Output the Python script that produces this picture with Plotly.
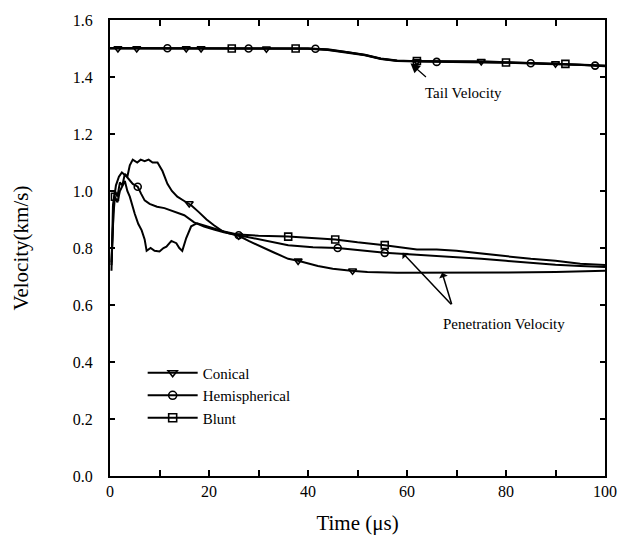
import plotly.graph_objects as go

# ---------------- data ----------------
# Penetration velocity curves
cone_t = [0.3, 0.6, 1.0, 1.5, 2.0, 2.5, 3.0, 3.5, 4.0, 4.6, 5.5, 6.2, 7.0, 7.8, 8.6, 9.6, 10.6, 11.6,
          12.5, 13.6, 15.0, 16.4, 18.0, 19.5, 21.0, 22.6, 24.0, 26.0, 28.0, 30.0, 33.0, 36.0, 38.0,
          42.0, 45.0, 48.7, 52.0, 58.0, 65.0, 70.0, 80.0, 90.0, 100.0]
cone_v = [0.72, 0.95, 1.00, 0.98, 1.03, 1.02, 1.06, 1.05, 1.09, 1.11, 1.10, 1.11, 1.105, 1.11, 1.10,
          1.10, 1.07, 1.025, 1.00, 0.98, 0.965, 0.95, 0.925, 0.90, 0.88, 0.86, 0.852, 0.843, 0.825,
          0.808, 0.785, 0.762, 0.755, 0.737, 0.727, 0.72, 0.716, 0.713, 0.713, 0.713, 0.714, 0.716, 0.72]

hemi_t = [0.3, 0.8, 1.2, 1.8, 2.4, 3.4, 4.6, 5.6, 6.3, 7.0, 8.0, 9.5, 11.0, 13.0, 15.0, 17.0, 19.0,
          21.0, 23.0, 26.0, 30.0, 36.0, 41.0, 46.0, 50.0, 55.5, 62.0, 66.0, 70.0, 75.0, 80.0, 85.0,
          90.0, 95.0, 100.0]
hemi_v = [0.75, 0.97, 1.02, 1.05, 1.065, 1.05, 1.025, 1.015, 0.99, 0.967, 0.955, 0.945, 0.94, 0.927,
          0.915, 0.89, 0.875, 0.865, 0.855, 0.845, 0.83, 0.81, 0.803, 0.80, 0.793, 0.783, 0.776, 0.772,
          0.768, 0.762, 0.755, 0.748, 0.741, 0.737, 0.733]

blunt_t = [0.3, 0.7, 1.0, 1.5, 2.0, 2.5, 3.0, 3.5, 4.0, 5.0, 5.7, 6.4, 7.0, 7.4, 8.2, 9.0, 10.0, 10.8,
           11.4, 12.4, 13.4, 14.0, 14.6, 15.4, 16.4, 17.6, 19.0, 21.0, 23.0, 26.0, 30.0, 36.0, 41.0,
           45.5, 50.0, 55.5, 62.0, 66.0, 70.0, 75.0, 80.0, 85.0, 90.0, 95.0, 100.0]
blunt_v = [0.74, 0.92, 0.98, 0.96, 1.00, 1.02, 1.035, 1.00, 0.98, 0.92, 0.885, 0.862, 0.83, 0.79, 0.80,
           0.79, 0.788, 0.80, 0.805, 0.825, 0.817, 0.80, 0.79, 0.835, 0.876, 0.887, 0.88, 0.87, 0.858,
           0.847, 0.843, 0.84, 0.835, 0.83, 0.82, 0.81, 0.795, 0.795, 0.79, 0.78, 0.77, 0.762, 0.755,
           0.745, 0.74]

# Tail velocity curves
tail_t = [0.0, 10.0, 20.0, 30.0, 40.0, 44.0, 48.0, 51.5, 54.7, 58.0, 62.0, 70.0, 75.0, 80.0, 88.0,
          95.0, 100.0]
tail_cone_v = [1.500, 1.500, 1.500, 1.499, 1.500, 1.497, 1.488, 1.478, 1.465, 1.458, 1.455, 1.455,
               1.455, 1.452, 1.448, 1.445, 1.440]
tail_hemi_v = [1.502, 1.501, 1.500, 1.500, 1.499, 1.495, 1.486, 1.476, 1.463, 1.456, 1.454, 1.453,
               1.452, 1.450, 1.446, 1.443, 1.438]
tail_blunt_v = [1.501, 1.500, 1.501, 1.500, 1.500, 1.496, 1.487, 1.477, 1.464, 1.457, 1.456, 1.454,
                1.453, 1.451, 1.447, 1.442, 1.439]

# Marker locations on each curve
cone_mark_t = [16.0, 26.0, 38.0, 49.0, 1.6, 5.4, 15.4, 18.4, 31.6, 62.0, 75.0, 90.0]
cone_mark_v = [0.956, 0.843, 0.755, 0.72, 1.500, 1.500, 1.500, 1.500, 1.499, 1.455, 1.455, 1.447]
hemi_mark_t = [5.6, 26.0, 46.0, 55.5, 11.6, 28.0, 41.5, 66.0, 85.0, 98.0]
hemi_mark_v = [1.015, 0.845, 0.80, 0.783, 1.501, 1.500, 1.499, 1.453, 1.448, 1.440]
blunt_mark_t = [1.0, 36.0, 45.5, 55.5, 24.6, 37.5, 62.0, 80.0, 92.0]
blunt_mark_v = [0.98, 0.84, 0.83, 0.81, 1.500, 1.500, 1.456, 1.451, 1.446]

series_names = ["Conical", "Hemispherical", "Blunt"]
x_ticks = [0, 20, 40, 60, 80, 100]
y_ticks = [0.0, 0.2, 0.4, 0.6, 0.8, 1.0, 1.2, 1.4, 1.6]

# ---------------- figure ----------------
FONT = "Liberation Serif, Times New Roman, serif"
LW = 2
fig = go.Figure()

curves = [
    (cone_t, cone_v, tail_cone_v, cone_mark_t, cone_mark_v, "triangle-down-open", series_names[0]),
    (hemi_t, hemi_v, tail_hemi_v, hemi_mark_t, hemi_mark_v, "circle-open", series_names[1]),
    (blunt_t, blunt_v, tail_blunt_v, blunt_mark_t, blunt_mark_v, "square-open", series_names[2]),
]
for t, v, tv, mt, mv, sym, name in curves:
    fig.add_trace(go.Scatter(x=t, y=v, mode="lines", line=dict(color="black", width=LW),
                             showlegend=False, hoverinfo="skip"))
    fig.add_trace(go.Scatter(x=tail_t, y=tv, mode="lines", line=dict(color="black", width=LW),
                             showlegend=False, hoverinfo="skip"))
    fig.add_trace(go.Scatter(x=mt, y=mv, mode="markers",
                             marker=dict(symbol=sym, size=7, color="black", line=dict(width=1.6)),
                             showlegend=False, hoverinfo="skip"))
    # legend entry
    fig.add_trace(go.Scatter(x=[None], y=[None], mode="lines+markers", name=name,
                             line=dict(color="black", width=LW),
                             marker=dict(symbol=sym, size=8, color="black", line=dict(width=1.6))))

# annotations
fig.add_annotation(x=60.7, y=1.448, ax=17, ay=15, text="", showarrow=True,
                   arrowhead=2, arrowsize=1.6, arrowwidth=1.2, arrowcolor="black")
fig.add_annotation(x=71.5, y=1.345, text="Tail Velocity", showarrow=False,
                   font=dict(family=FONT, size=15, color="black"))
fig.add_annotation(x=59.1, y=0.783, ax=50, ay=53, text="", showarrow=True,
                   arrowhead=1, arrowsize=1, arrowwidth=1.5, arrowcolor="black")
fig.add_annotation(x=67.1, y=0.713, ax=10, ay=33, text="", showarrow=True,
                   arrowhead=1, arrowsize=1, arrowwidth=1.5, arrowcolor="black")
fig.add_annotation(x=79.5, y=0.535, text="Penetration Velocity", showarrow=False,
                   font=dict(family=FONT, size=15, color="black"))

axis_common = dict(showline=True, linecolor="black", linewidth=2, mirror="ticks",
                   ticks="inside", tickcolor="black", tickwidth=2, showgrid=False, zeroline=False,
                   tickfont=dict(family=FONT, size=16, color="black"))

fig.update_xaxes(range=[0, 100], tickvals=x_ticks, ticklen=6,
                 minor=dict(dtick=10, ticks="inside", ticklen=6, tickcolor="black", tickwidth=2),
                 title=dict(text="Time (μs)", font=dict(family=FONT, size=21, color="black"), standoff=16),
                 **axis_common)
fig.update_yaxes(range=[0, 1.6], tickvals=y_ticks, tickformat=".1f", ticklen=5,
                 ticklabelstandoff=12,
                 title=dict(text="Velocity(km/s)", font=dict(family=FONT, size=21, color="black"), standoff=38),
                 **axis_common)

fig.update_layout(
    width=629, height=546,
    margin=dict(l=110, r=20, t=14, b=70),
    paper_bgcolor="white", plot_bgcolor="white",
    font=dict(family=FONT, color="black"),
    legend=dict(x=0.066, y=0.262, xanchor="left", yanchor="top", bgcolor="rgba(0,0,0,0)",
                font=dict(family=FONT, size=15, color="black"), itemwidth=50),
)

fig.write_html("out.html")
